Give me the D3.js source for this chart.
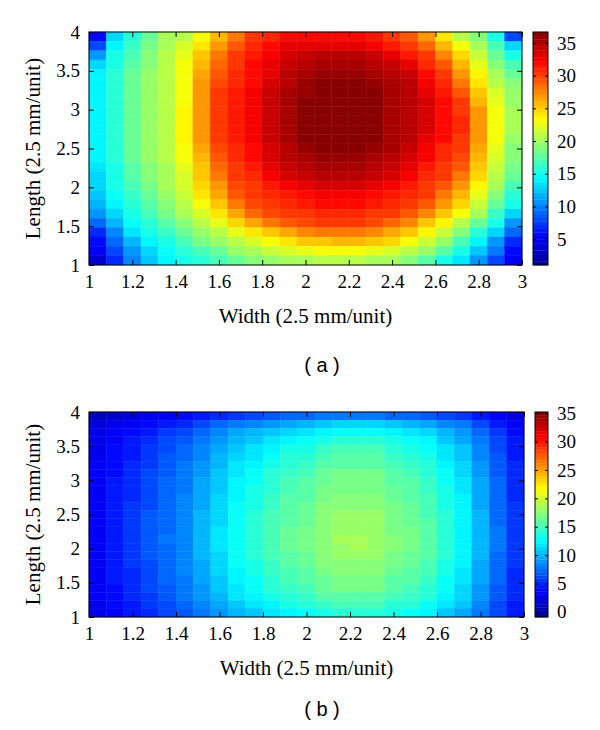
<!DOCTYPE html>
<html>
<head>
<meta charset="utf-8">
<script src="https://cdn.jsdelivr.net/npm/d3@7"></script>
<style>
  body { margin: 0; background: #fff; }
  text { font-family: "Liberation Serif", "Times New Roman", serif; fill: #000; }
</style>
</head>
<body>
<svg id="chart" width="600" height="730"></svg>
<script>
// tick values
var xTicks = [1, 1.2, 1.4, 1.6, 1.8, 2, 2.2, 2.4, 2.6, 2.8, 3];
var yTicks = [1, 1.5, 2, 2.5, 3, 3.5, 4];
var cbTicksA = [5, 10, 15, 20, 25, 30, 35];
var cbTicksB = [0, 5, 10, 15, 20, 25, 30, 35];
var rangeA = [1.05, 36.67];
var rangeB = [-0.9, 35.2];

// panel (a): rows listed from Length = 4 (top) down to Length = 1, columns Width 1 -> 3
var gridA = [
  [6,13,16,18,20,21,23,26,28,30,31,32,32,32,32,32,31.5,30.5,29,27,24,21,19,15,8],
  [8,14,16.5,18.5,20.5,22,24,27,29,31,32,33,33,33,33,33,32.5,31.5,30.5,28.5,26,23,20,17,13],
  [11,15,17,19,21,22.5,25,28,30,31.5,32.5,33.5,34,34.5,34.5,34.5,34,33,31.5,30,27.5,24.5,21.5,18,15],
  [13,15.5,17.5,19,21,23,26,28.5,30.5,32,33,34,35,35.5,35.5,35.5,35,34,33,31,29,26,22.5,19,17],
  [14,16,18,19.5,21,23,26.5,29,31,32,33,34.5,35.5,36,36,36,35.5,35,34,32,30,27,23.5,20,18],
  [14,16,18,19.5,21,23,27,29.5,31,32,33.5,35,36,36.5,36.5,36.5,36,35.5,34.5,32.5,31,28,24,21,19],
  [14,16,18,19.5,21,23,27,30,31.5,32.5,34,35.5,36,36.5,36.5,36.5,36.5,35.5,34.5,33,31.5,29,25,22,19.5],
  [14,16,18,19.5,21,23,27,30,31.5,32.5,34,35.5,36.3,36.5,36.5,36.5,36.3,35.5,34.5,33.5,32,30,26,22.5,19.5],
  [14,16,18,19.5,21,23.5,27,30,31.5,32.5,34,35.5,36.3,36.5,36.5,36.5,36.3,35.5,34.5,33.5,32,30.5,27,23,20],
  [14,16,18,19.5,21,23.5,27,30,31.5,32.5,34,35.5,36.3,36.5,36.5,36.5,36.3,35.5,34.5,33.5,32,31,27,23,20],
  [14,16,18,19.5,21,23.5,27,30,31.5,32.5,34,35.5,36.3,36.5,36.5,36.5,36.3,35.5,34.5,33.5,32,31,27,23,20],
  [14,16,18,19.5,21,23.5,27,30,31.5,32.5,34,35.5,36.3,36.5,36.5,36.5,36.3,35.5,34.5,33,32,30.5,27,23,19.5],
  [14,16,18,19.5,21,23,26.5,29.5,31,32,33.5,35,36,36.5,36.5,36.5,36,35.5,34,32.5,31,30,26.5,22.5,19],
  [14,16,18,19.5,21,23,26,29,31,32,33.5,34.5,35.5,36,36,36,35.5,35,33.5,32.5,31,29.5,26,22,19],
  [13.5,15.5,17.5,19,20.5,22.5,25.5,28.5,30.5,31.5,33,34,35,35.5,35.5,35.5,35,34,33,31.5,30.5,29,25,21.5,18.5],
  [13,15.5,17.5,19,20.5,22,25,28,30,31,32.5,33.5,34,34.5,34.5,34.5,34,33.5,32.5,31,30,28,24.5,21,18],
  [13,15,17,18.5,20,22,24.5,27,29.5,30.5,31.5,32.5,33,33.5,33.5,33.5,33,32.5,31.5,30.5,29,27,23.5,20,17],
  [12.5,14.5,16.5,18,19.5,21.5,24,26.5,29,30,31,31.5,32,32.5,32.5,32.5,32,31.5,31,30,28,26,22.5,19,16],
  [12,14,16,17.5,19,21,23,25.5,28,29.5,30.5,31,31.5,32,32,32,31.5,31,30,29,27,24.5,21.5,18,15],
  [11,13,15.5,17,18.5,20,22,24,26.5,28.5,29.5,30,30.5,31,31,31,30.5,30,29,27.5,25.5,23,20,16.5,13],
  [9,12,14.5,16,17.5,19,21,22.5,24.5,26.5,28,29,29.5,30,30,30,29.5,28.5,27.5,25.5,23.5,21,18,15,11],
  [7,10.5,13.5,15,16.5,18,19.5,21,22.5,24,25.5,26.5,27.5,28,28,28,27.5,26.5,25,23.5,21.5,19,16,13,9],
  [6,9,12,14,15.5,17,18.5,19.5,21,22,23,24,25,25.5,26,26,25.5,24.5,23,21.5,19.5,17,14,11,7],
  [5,8,11,13,14.5,16,17,18,19.5,20.5,21.5,22,22.5,23,23,23,22.5,22,21,19.5,17.5,15,12.5,9.5,6],
  [3.5,7,10,12.5,14,15,16,17,18,19,19.5,20,20.5,21,21,21,20.5,20,19,17.5,15.5,13.5,11,8,5]
];

// panel (b): same layout
var gridB = [
  [1,1.8,2.4,2.9,3.3,3.7,4.4,5.1,5.7,6.2,6.6,7,7.3,7.7,7.9,7.9,7.9,7.5,7.3,6.8,6.2,5.5,4.4,3.3,2.2],
  [2.1,2.7,3.4,4,4.6,5.2,6.1,7,7.9,8.5,9.2,9.8,10.1,10.7,11,11,11,10.4,10.1,9.5,8.5,7.6,6.1,4.6,3.4],
  [2.5,3.2,4,4.7,5.4,6.1,7.2,8.3,9.4,10.1,10.8,11.5,11.9,12.6,13,13,13,12.2,11.9,11.2,10.1,9,7.2,5.4,4],
  [2.7,3.5,4.3,5.1,5.9,6.6,7.8,9,10.1,10.9,11.7,12.5,12.9,13.7,14,14,14,13.3,12.9,12.1,10.9,9.8,7.8,5.9,4.3],
  [2.9,3.7,4.6,5.4,6.2,7.1,8.3,9.5,10.8,11.6,12.5,13.3,13.7,14.5,14.9,14.9,14.9,14.1,13.7,12.9,11.6,10.4,8.3,6.2,4.6],
  [3,3.9,4.7,5.6,6.5,7.3,8.6,9.9,11.2,12,12.9,13.8,14.2,15.1,15.5,15.5,15.5,14.6,14.2,13.3,12,10.8,8.6,6.5,4.7],
  [3.1,4,4.9,5.8,6.7,7.6,8.9,10.2,11.6,12.5,13.4,14.2,14.7,15.6,16,16,16,15.1,14.7,13.8,12.5,11.1,8.9,6.7,4.9],
  [3.2,4.1,5.1,6,6.9,7.8,9.2,10.6,12,12.9,13.8,14.7,15.2,16.1,16.6,16.6,16.6,15.6,15.2,14.3,12.9,11.5,9.2,6.9,5.1],
  [3.3,4.2,5.2,6.1,7.1,8,9.4,10.8,12.2,13.2,14.1,15,15.5,16.5,16.9,16.9,16.9,16,15.5,14.6,13.2,11.8,9.4,7.1,5.2],
  [3.3,4.3,5.2,6.2,7.1,8.1,9.5,10.9,12.4,13.3,14.3,15.2,15.7,16.6,17.1,17.1,17.1,16.2,15.7,14.7,13.3,11.9,9.5,7.1,5.2],
  [3.4,4.4,5.3,6.3,7.3,8.2,9.7,11.2,12.6,13.6,14.6,15.5,16,17,17.5,17.5,17.5,16.5,16,15,13.6,12.1,9.7,7.3,5.3],
  [3.4,4.4,5.4,6.4,7.4,8.3,9.8,11.3,12.7,13.7,14.7,15.7,16.2,17.2,17.6,17.6,17.6,16.7,16.2,15.2,13.7,12.3,9.8,7.4,5.4],
  [3.5,4.5,5.5,6.5,7.5,8.5,10,11.5,12.9,13.9,14.9,15.9,16.4,17.4,17.8,17.8,17.8,16.9,16.4,15.4,13.9,12.4,9.9,7.5,5.5],
  [3.5,4.5,5.5,6.5,7.5,8.5,10,11.5,13,14,15,16,16.5,17.5,18,18,18,17,16.5,15.5,14,12.5,10,7.5,5.5],
  [3.5,4.5,5.5,6.5,7.5,8.5,10.1,11.6,13.1,14.1,15.1,16.1,16.6,17.6,18.2,18.2,18.1,17.1,16.6,15.6,14.1,12.6,10.1,7.6,5.5],
  [3.5,4.5,5.6,6.6,7.6,8.6,10.1,11.6,13.1,14.1,15.1,16.2,16.7,17.7,18.3,18.3,18.2,17.2,16.7,15.7,14.1,12.6,10.1,7.6,5.6],
  [3.5,4.5,5.5,6.5,7.5,8.5,10.1,11.6,13.1,14.1,15.1,16.1,16.7,17.7,18.2,18.3,18.2,17.2,16.6,15.6,14.1,12.6,10.1,7.6,5.5],
  [3.5,4.5,5.5,6.5,7.5,8.5,10,11.5,13,14,15,16,16.5,17.5,18,18,18,17,16.5,15.5,14,12.5,10,7.5,5.5],
  [3.4,4.4,5.4,6.4,7.4,8.3,9.8,11.3,12.7,13.7,14.7,15.7,16.2,17.2,17.6,17.6,17.6,16.7,16.2,15.2,13.7,12.3,9.8,7.4,5.4],
  [3.4,4.3,5.3,6.2,7.2,8.2,9.6,11,12.5,13.4,14.4,15.4,15.8,16.8,17.3,17.3,17.3,16.3,15.8,14.9,13.4,12,9.6,7.2,5.3],
  [3.3,4.2,5.2,6.1,7.1,8,9.4,10.8,12.2,13.2,14.1,15,15.5,16.5,16.9,16.9,16.9,16,15.5,14.6,13.2,11.8,9.4,7.1,5.2],
  [3.2,4.1,5.1,6,6.9,7.8,9.2,10.6,12,12.9,13.8,14.7,15.2,16.1,16.6,16.6,16.6,15.6,15.2,14.3,12.9,11.5,9.2,6.9,5.1],
  [3.1,4,4.9,5.8,6.7,7.6,8.9,10.2,11.6,12.5,13.4,14.2,14.7,15.6,16,16,16,15.1,14.7,13.8,12.5,11.1,8.9,6.7,4.9],
  [2.9,3.8,4.6,5.5,6.3,7.1,8.4,9.7,10.9,11.8,12.6,13.4,13.9,14.7,15.1,15.1,15.1,14.3,13.9,13,11.8,10.5,8.4,6.3,4.6],
  [2.5,3.5,4.3,5.1,5.9,6.6,7.8,9,10.1,10.9,11.7,12.5,12.9,13.7,14,14,14,13.3,12.9,12.1,10.9,9.8,7.8,5.9,4.3]
];

var svg = d3.select("#chart");

// MATLAB-like jet, quantised to 64 levels
function jet(range) {
  var lo = range[0], hi = range[1];
  var stops = [0, 0.125, 0.375, 0.625, 0.875, 1].map(function(f) { return lo + f * (hi - lo); });
  var cont = d3.scaleLinear().domain(stops)
    .range(["#00008f", "#0000ff", "#00ffff", "#ffff00", "#ff0000", "#800000"])
    .clamp(true);
  return function(v) {
    var k = Math.max(0, Math.min(63, Math.floor((v - lo) / (hi - lo) * 64)));
    return cont(lo + (k + 0.5) / 64 * (hi - lo));
  };
}

function drawPanel(p) {
  var g = svg.append("g");
  var x = d3.scaleLinear().domain([1, 3]).range([p.left, p.right]);
  var y = d3.scaleLinear().domain([1, 4]).range([p.bottom, p.top]);
  var nRows = p.grid.length, nCols = p.grid[0].length;
  var colEdge = d3.scaleLinear().domain([0, nCols]).range([1, 3]);
  var rowEdge = d3.scaleLinear().domain([0, nRows]).range([4, 1]);
  var color = jet(p.range);

  var cells = [];
  p.grid.forEach(function(row, i) {
    row.forEach(function(v, j) { cells.push({i: i, j: j, v: v}); });
  });

  g.selectAll("rect.cell").data(cells).enter()
    .append("rect")
      .attr("class", "cell")
      .attr("x", function(d) { return x(colEdge(d.j)); })
      .attr("y", function(d) { return y(rowEdge(d.i)); })
      .attr("width", function(d) { return x(colEdge(d.j + 1)) - x(colEdge(d.j)); })
      .attr("height", function(d) { return y(rowEdge(d.i + 1)) - y(rowEdge(d.i)); })
      .attr("fill", function(d) { return color(d.v); })
      .attr("stroke", function(d) { return color(d.v); })
      .attr("stroke-width", 0.4);

  // axes, ticks pointing inward
  var xAxis = d3.axisBottom(x).tickValues(xTicks).tickSize(-5).tickPadding(10)
    .tickFormat(function(d) { return String(d); });
  var yAxis = d3.axisLeft(y).tickValues(yTicks).tickSize(-5).tickPadding(9)
    .tickFormat(function(d) { return String(d); });

  var gx = g.append("g").attr("transform", "translate(0," + p.bottom + ")").call(xAxis);
  var gy = g.append("g").attr("transform", "translate(" + p.left + ",0)").call(yAxis);
  var gxt = g.append("g").attr("transform", "translate(0," + p.top + ")")
    .call(d3.axisTop(x).tickValues(xTicks).tickSize(-5).tickFormat(""));
  var gyr = g.append("g").attr("transform", "translate(" + p.right + ",0)")
    .call(d3.axisRight(y).tickValues(yTicks).tickSize(-5).tickFormat(""));
  [gx, gy, gxt, gyr].forEach(function(a) {
    a.select(".domain").remove();
    a.selectAll(".tick line").attr("stroke", "#000");
    a.selectAll("text").style("font-family", "Liberation Serif").style("font-size", "19px").attr("fill", "#000");
  });

  g.append("rect")
    .attr("x", p.left).attr("y", p.top)
    .attr("width", p.right - p.left).attr("height", p.bottom - p.top)
    .attr("fill", "none").attr("stroke", "#000").attr("stroke-width", 1);

  // titles
  g.append("text")
    .attr("x", (p.left + p.right) / 2).attr("y", p.bottom + 58)
    .attr("text-anchor", "middle").style("font-size", "21px")
    .text("Width (2.5 mm/unit)");
  g.append("text")
    .attr("transform", "translate(40," + (p.top + p.bottom) / 2 + ") rotate(-90)")
    .attr("text-anchor", "middle").style("font-size", "21px")
    .text("Length (2.5 mm/unit)");

  // colorbar
  var cb = d3.scaleLinear().domain(p.range).range([p.bottom, p.top]);
  var lo = p.range[0], hi = p.range[1], step = (hi - lo) / 64;
  g.selectAll("rect.cb").data(d3.range(64)).enter()
    .append("rect")
      .attr("class", "cb")
      .attr("x", p.cbLeft)
      .attr("y", function(k) { return cb(lo + (k + 1) * step); })
      .attr("width", p.cbRight - p.cbLeft)
      .attr("height", function(k) { return cb(lo + k * step) - cb(lo + (k + 1) * step) + 0.3; })
      .attr("fill", function(k) { return color(lo + (k + 0.5) * step); });

  var gcb = g.append("g").attr("transform", "translate(" + p.cbRight + ",0)")
    .call(d3.axisRight(cb).tickValues(p.cbTicks).tickSize(-3).tickPadding(9));
  var gcbl = g.append("g").attr("transform", "translate(" + p.cbLeft + ",0)")
    .call(d3.axisLeft(cb).tickValues(p.cbTicks).tickSize(-3).tickFormat(""));
  [gcb, gcbl].forEach(function(a) {
    a.select(".domain").remove();
    a.selectAll(".tick line").attr("stroke", "#000");
    a.selectAll("text").style("font-family", "Liberation Serif").style("font-size", "19px").attr("fill", "#000");
  });
  g.append("rect")
    .attr("x", p.cbLeft).attr("y", p.top)
    .attr("width", p.cbRight - p.cbLeft).attr("height", p.bottom - p.top)
    .attr("fill", "none").attr("stroke", "#000").attr("stroke-width", 1);

  g.append("text")
    .attr("x", 322).attr("y", p.tagY)
    .attr("text-anchor", "middle")
    .style("font-family", "Liberation Sans").style("font-size", "20px")
    .text(p.tag);
}

drawPanel({left: 89, right: 522, top: 32, bottom: 265, cbLeft: 533, cbRight: 548,
  grid: gridA, range: rangeA, cbTicks: cbTicksA, tag: "( a )", tagY: 372});
drawPanel({left: 89, right: 524, top: 412, bottom: 617, cbLeft: 535, cbRight: 548,
  grid: gridB, range: rangeB, cbTicks: cbTicksB, tag: "( b )", tagY: 716});
</script>
</body>
</html>
